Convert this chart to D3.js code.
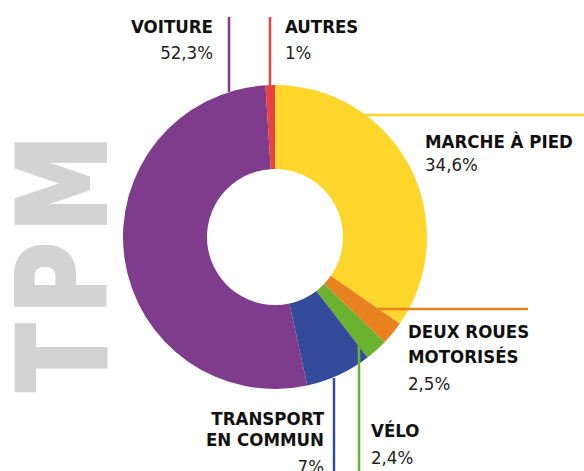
<!DOCTYPE html>
<html>
<head>
<meta charset="utf-8">
<script src="https://cdn.jsdelivr.net/npm/d3@7"></script>
<style>
  html, body { margin: 0; padding: 0; background: #fff; }
  svg { display: block; }
</style>
</head>
<body>
<div id="chart"></div>
<script>
const categories = ["MARCHE À PIED", "DEUX ROUES MOTORISÉS", "VÉLO", "TRANSPORT EN COMMUN", "VOITURE", "AUTRES"];
const shares = [34.6, 2.5, 2.4, 7, 52.3, 1];
const shareLabels = ["34,6%", "2,5%", "2,4%", "7%", "52,3%", "1%"];
const colors = ["#fdd62b", "#e8821f", "#6bb32e", "#344b9b", "#7f3c8c", "#e84243"];

const width = 584;
const height = 471;
const cx = 275;
const cy = 237;
const outerR = 152;
const innerR = 68;

const svg = d3.select("#chart")
  .append("svg")
  .attr("width", width)
  .attr("height", height);

// big watermark text, reads bottom to top
svg.append("text")
  .attr("transform", "translate(105, 391) rotate(-90) scale(0.8, 1)")
  .attr("font-family", "'DejaVu Sans', sans-serif")
  .attr("font-weight", "bold")
  .attr("font-size", 122)
  .attr("letter-spacing", 13)
  .attr("fill", "#d3d3d3")
  .attr("stroke", "#d3d3d3")
  .attr("stroke-width", 4)
  .text("TPM");

const pie = d3.pie().sort(null).value(d => d);
const arc = d3.arc().innerRadius(innerR).outerRadius(outerR);

const g = svg.append("g").attr("transform", `translate(${cx}, ${cy})`);
g.selectAll("path")
  .data(pie(shares))
  .enter()
  .append("path")
  .attr("d", arc)
  .attr("fill", (d, i) => colors[i]);

// leader lines: [x1, y1, x2, y2] in page coords
const leaders = [
  [365, 115, 584, 115],
  [378, 309, 528, 309],
  [359, 342, 359, 471],
  [334, 378, 334, 471],
  [229, 92, 229, 17],
  [270, 86, 270, 17]
];
svg.append("g")
  .selectAll("line")
  .data(leaders)
  .enter()
  .append("line")
  .attr("x1", d => d[0]).attr("y1", d => d[1])
  .attr("x2", d => d[2]).attr("y2", d => d[3])
  .attr("stroke", (d, i) => colors[i])
  .attr("stroke-width", 2.5);

// label layout: x, anchor, baselines for name lines then the percentage
const labelPos = [
  { x: 425, anchor: "start", lines: ["MARCHE À PIED"], ys: [148, 171] },
  { x: 408, anchor: "start", lines: ["DEUX ROUES", "MOTORISÉS"], ys: [338, 363, 390] },
  { x: 371, anchor: "start", lines: ["VÉLO"], ys: [437, 464] },
  { x: 324, anchor: "end", lines: ["TRANSPORT", "EN COMMUN"], ys: [425, 446, 473] },
  { x: 213, anchor: "end", lines: ["VOITURE"], ys: [33, 59] },
  { x: 285, anchor: "start", lines: ["AUTRES"], ys: [33, 59] }
];

labelPos.forEach((p, i) => {
  const t = svg.append("text")
    .attr("text-anchor", p.anchor)
    .attr("font-family", "'DejaVu Sans Condensed', 'DejaVu Sans', sans-serif")
    .attr("font-size", 18.5)
    .attr("fill", "#111");
  p.lines.forEach((l, j) => {
    t.append("tspan")
      .attr("x", p.x)
      .attr("y", p.ys[j])
      .attr("font-weight", "bold")
      .text(l);
  });
  t.append("tspan")
    .attr("x", p.x)
    .attr("y", p.ys[p.lines.length])
    .attr("font-weight", "normal")
    .attr("fill", "#222")
    .text(shareLabels[i]);
});
</script>
</body>
</html>
